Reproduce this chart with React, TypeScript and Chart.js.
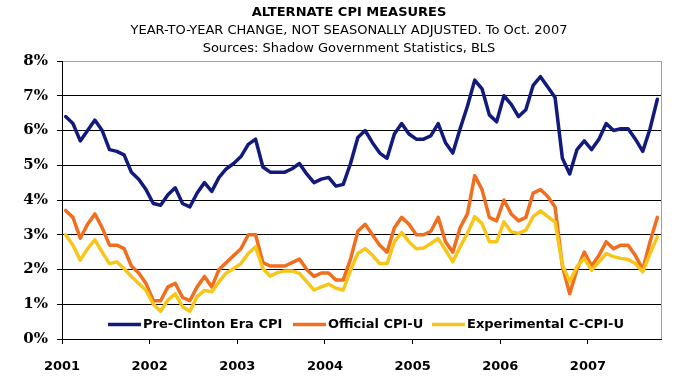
import React, { useEffect, useRef } from 'react';
import { Chart, registerables } from 'chart.js';

Chart.register(...registerables);

const titleLines = [
  'ALTERNATE CPI MEASURES',
  'YEAR-TO-YEAR CHANGE, NOT SEASONALLY ADJUSTED. To Oct. 2007',
  'Sources: Shadow Government Statistics, BLS',
];

const tickLabels = ['2001', '2002', '2003', '2004', '2005', '2006', '2007'];
const yTicks = [0, 1, 2, 3, 4, 5, 6, 7, 8];

const seriesNames = ['Pre-Clinton Era CPI', 'Official CPI-U', 'Experimental C-CPI-U'];
const seriesColors = ['#121a7c', '#f06e1e', '#f7c619'];
const legendStarts = [108, 293, 432];

// Monthly, Jan 2001 .. Oct 2007
const preClinton = [
  6.4, 6.2, 5.7, 6.0, 6.3, 6.0, 5.45, 5.4, 5.3, 4.8, 4.6, 4.3,
  3.9, 3.85, 4.15, 4.35, 3.9, 3.8, 4.2, 4.5, 4.25, 4.65, 4.9, 5.05,
  5.25, 5.6, 5.75, 4.95, 4.8, 4.8, 4.8, 4.9, 5.05, 4.75, 4.5, 4.6,
  4.65, 4.4, 4.45, 5.05, 5.8, 6.0, 5.65, 5.35, 5.2, 5.9, 6.2, 5.9,
  5.75, 5.75, 5.85, 6.2, 5.65, 5.35, 6.05, 6.7, 7.45, 7.2, 6.45, 6.25,
  7.0, 6.75, 6.4, 6.6, 7.3, 7.55, 7.25, 6.95, 5.2, 4.75, 5.45, 5.7,
  5.45, 5.75, 6.2, 6.0, 6.05, 6.05, 5.75, 5.4, 6.05, 6.9,
];

const officialCpiU = [
  3.7, 3.5, 2.9, 3.3, 3.6, 3.2, 2.7, 2.7, 2.6, 2.1, 1.9, 1.6,
  1.1, 1.1, 1.5, 1.6, 1.2, 1.1, 1.5, 1.8, 1.5, 2.0, 2.2, 2.4,
  2.6, 3.0, 3.0, 2.2, 2.1, 2.1, 2.1, 2.2, 2.3, 2.0, 1.8, 1.9,
  1.9, 1.7, 1.7, 2.3, 3.1, 3.3, 3.0, 2.7, 2.5, 3.2, 3.5, 3.3,
  3.0, 3.0, 3.1, 3.5, 2.8, 2.5, 3.2, 3.6, 4.7, 4.3, 3.5, 3.4,
  4.0, 3.6, 3.4, 3.5, 4.2, 4.3, 4.1, 3.8, 2.1, 1.3, 2.0, 2.5,
  2.1, 2.4, 2.8, 2.6, 2.7, 2.7, 2.4, 2.0, 2.8, 3.5,
];

const experimentalCCpiU = [
  3.0, 2.7, 2.27, 2.6, 2.85, 2.5, 2.17, 2.22, 2.03, 1.8, 1.6, 1.4,
  1.0, 0.8, 1.12, 1.3, 0.93, 0.8, 1.22, 1.4, 1.36, 1.65, 1.9, 2.03,
  2.17, 2.46, 2.65, 2.03, 1.81, 1.91, 1.96, 1.96, 1.89, 1.65, 1.41, 1.5,
  1.58, 1.46, 1.41, 1.98, 2.46, 2.6, 2.41, 2.17, 2.17, 2.8, 3.06, 2.8,
  2.6, 2.62, 2.75, 2.89, 2.56, 2.22, 2.65, 3.04, 3.52, 3.32, 2.8, 2.8,
  3.37, 3.08, 3.04, 3.13, 3.52, 3.69, 3.52, 3.37, 2.13, 1.65, 2.08, 2.32,
  1.98, 2.22, 2.46, 2.37, 2.32, 2.29, 2.17, 1.93, 2.46, 2.94,
];

const allSeries = [preClinton, officialCpiU, experimentalCCpiU];

const decorPlugin = {
  id: 'decor',
  beforeDatasetsDraw(chart: any) {
    const { ctx, chartArea } = chart;
    ctx.save();
    ctx.strokeStyle = '#a0a0a0';
    ctx.lineWidth = 1;
    ctx.beginPath();
    ctx.moveTo(Math.round(chartArea.right) + 0.5, chartArea.top);
    ctx.lineTo(Math.round(chartArea.right) + 0.5, chartArea.bottom);
    ctx.stroke();
    ctx.restore();
  },
  afterDraw(chart: any) {
    const { ctx } = chart;
    ctx.save();
    ctx.fillStyle = '#000';
    ctx.textAlign = 'center';
    ctx.textBaseline = 'middle';
    const cx = 349;
    ctx.font = 'bold 13px "DejaVu Sans"';
    ctx.fillText(titleLines[0], cx, 12.5);
    ctx.font = '13px "DejaVu Sans"';
    ctx.fillText(titleLines[1], cx, 31);
    ctx.fillText(titleLines[2], cx, 48.5);

    // legend
    ctx.font = 'bold 13px "DejaVu Sans"';
    ctx.textAlign = 'left';
    const y = 324.5;
    seriesNames.forEach((name, k) => {
      const x = legendStarts[k];
      ctx.strokeStyle = seriesColors[k];
      ctx.lineWidth = 3.5;
      ctx.beginPath();
      ctx.moveTo(x, y);
      ctx.lineTo(x + 33, y);
      ctx.stroke();
      ctx.fillStyle = '#000';
      ctx.fillText(name, x + 35, y);
    });
    ctx.restore();
  },
};

export default function App() {
  const ref = useRef<HTMLCanvasElement | null>(null);

  useEffect(() => {
    document.body.style.margin = '0';
    const canvas = ref.current;
    if (!canvas) return;
    const chart = new Chart(canvas, {
      type: 'line',
      data: {
        datasets: allSeries.map((s, k) => ({
          label: seriesNames[k],
          data: s.map((v, i) => ({ x: i, y: v })),
          borderColor: seriesColors[k],
          backgroundColor: seriesColors[k],
          borderWidth: 3.5,
          pointRadius: 0,
          tension: 0,
          fill: false,
          borderJoinStyle: 'round',
          borderCapStyle: 'round',
          order: 3 - k,
        })),
      },
      options: {
        animation: false,
        responsive: false,
        maintainAspectRatio: false,
        layout: { padding: { top: 61, right: 19, left: 0, bottom: 0 } },
        plugins: {
          legend: { display: false },
          tooltip: { enabled: false },
          title: { display: false },
        },
        scales: {
          x: {
            type: 'linear',
            min: -0.5,
            max: allSeries[0].length - 0.5,
            afterFit: (s: any) => {
              s.height = 48;
            },
            afterBuildTicks: (s: any) => {
              s.ticks = tickLabels.map((_, k) => ({ value: -0.5 + 12 * k }));
            },
            ticks: {
              autoSkip: false,
              maxRotation: 0,
              padding: 15,
              color: '#000',
              font: { family: 'DejaVu Sans', size: 13, weight: 'bold' },
              callback: (v: any) => {
                const k = Math.round((Number(v) + 0.5) / 12);
                return tickLabels[k] ?? '';
              },
            },
            grid: {
              drawOnChartArea: false,
              drawTicks: true,
              tickLength: 5,
              color: '#000',
            },
            border: { display: true, color: '#000', width: 1 },
          },
          y: {
            min: 0,
            max: 8,
            afterFit: (s: any) => {
              s.width = 62;
            },
            afterBuildTicks: (s: any) => {
              s.ticks = yTicks.map((v) => ({ value: v }));
            },
            ticks: {
              padding: 9,
              color: '#000',
              font: { family: 'DejaVu Serif', size: 15, weight: 'bold' },
              callback: (v: any) => `${v}%`,
            },
            grid: {
              color: (c: any) => (c.tick && c.tick.value === 8 ? '#a0a0a0' : '#000'),
              tickColor: '#000',
              lineWidth: 1,
              tickLength: 5,
            },
            border: { display: true, color: '#000', width: 1 },
          },
        },
      },
      plugins: [decorPlugin],
    } as any);
    return () => chart.destroy();
  }, []);

  return (
    <div style={{ width: 680, height: 387, background: '#fff' }}>
      <canvas ref={ref} width={680} height={387} style={{ display: 'block' }} />
    </div>
  );
}
